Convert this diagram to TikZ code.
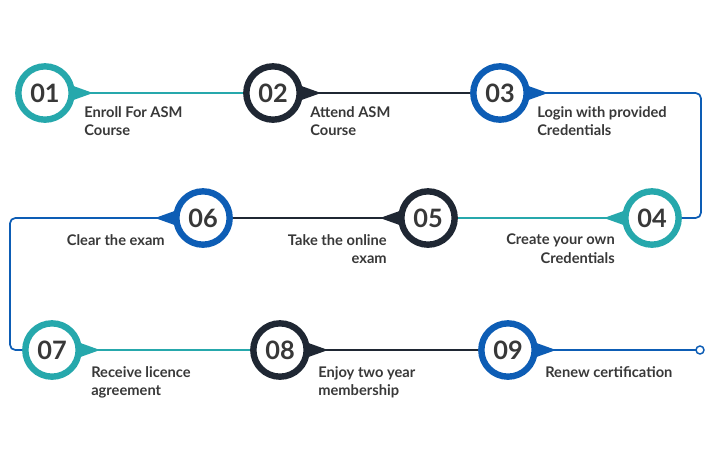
\documentclass[tikz,border=0pt]{standalone}
\usepackage{fontspec}
\setmainfont{Lato}
\definecolor{cteal}{HTML}{26A8AC}
\definecolor{cdark}{HTML}{1F2733}
\definecolor{cblue}{HTML}{0D5DB5}
\definecolor{ctext}{HTML}{383838}
\begin{document}
\begin{tikzpicture}[x=0.75pt,y=-0.75pt,
  ring/.style={circle,draw=#1,line width=4.8pt,fill=white,minimum size=40pt,inner sep=0pt,font=\bfseries\fontsize{19}{19}\selectfont,text=ctext},
  lbl/.style={font=\bfseries\fontsize{11}{14}\selectfont,text=ctext,align=left,inner sep=0pt},
  lblr/.style={lbl,align=right},
  con/.style={draw=#1,line width=1.3pt,rounded corners=4pt}]
\useasboundingbox (0,0) rectangle (715,462);
% tails
\newcommand{\tail}[4]{% center x, y, dir (1/-1), color
  \fill[#4] (#1+#3*20,#2-10) -- (#1+#3*48,#2) -- (#1+#3*20,#2+10) -- cycle;}
\tail{45}{93}{1}{cteal}
\tail{273}{93}{1}{cdark}
\tail{500}{93}{1}{cblue}
\tail{652}{218}{-1}{cteal}
\tail{428}{218}{-1}{cdark}
\tail{203}{218}{-1}{cblue}
\tail{52}{350}{1}{cteal}
\tail{280}{350}{1}{cdark}
\tail{508}{350}{1}{cblue}
\node[ring=cteal] (n1) at (45,93) {01};
\node[ring=cdark] (n2) at (273,93) {02};
\node[ring=cblue] (n3) at (500,93) {03};
\node[ring=cteal] (n4) at (652,218) {04};
\node[ring=cdark] (n5) at (428,218) {05};
\node[ring=cblue] (n6) at (203,218) {06};
\node[ring=cteal] (n7) at (52,350) {07};
\node[ring=cdark] (n8) at (280,350) {08};
\node[ring=cblue] (n9) at (508,350) {09};
\coordinate (e1) at (701,93);
\coordinate (e2) at (10,218);
\coordinate (end) at (700,350);
\begin{scope}[on background layer/.style={}]
\end{scope}
\draw[con=cteal] (n1.east) -- (n2.west);
\draw[con=cdark] (n2.east) -- (n3.west);
\draw[con=cblue] (n3.east) -- (e1) -- (e1 |- n4) -- (n4.east);
\draw[con=cteal] (n4.west) -- (n5.east);
\draw[con=cdark] (n5.west) -- (n6.east);
\draw[con=cblue] (n6.west) -- (e2) -- (e2 |- n7) -- (n7.west);
\draw[con=cteal] (n7.east) -- (n8.west);
\draw[con=cdark] (n8.east) -- (n9.west);
\draw[con=cblue] (n9.east) -- (end);
\node[circle,draw=cblue,line width=1.1pt,fill=white,minimum size=6pt,inner sep=0pt] (endc) at (end) {};
\node[lbl,anchor=north west] (t1) at (84,106) {Enroll For ASM\\Course};
\node[lbl,anchor=north west] (t2) at (310,106) {Attend ASM\\Course};
\node[lbl,anchor=north west] (t3) at (537,106) {Login with provided\\Credentials};
\node[lblr,anchor=north east] (t4) at (615,234) {Create your own\\Credentials};
\node[lblr,anchor=north east] (t5) at (387,234) {Take the online\\exam};
\node[lblr,anchor=north east] (t6) at (165,234) {Clear the exam};
\node[lbl,anchor=north west] (t7) at (91,366) {Receive licence\\agreement};
\node[lbl,anchor=north west] (t8) at (318,366) {Enjoy two year\\membership};
\node[lbl,anchor=north west] (t9) at (545,366) {Renew certification};
\end{tikzpicture}
\end{document}
